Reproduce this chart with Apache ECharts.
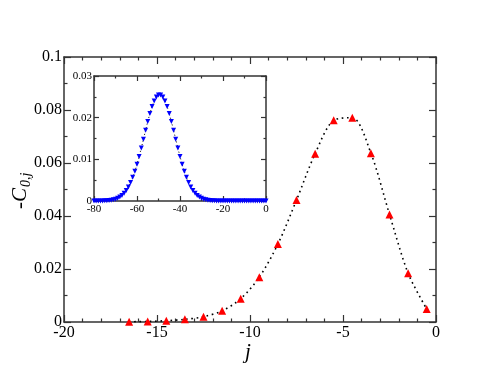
<!DOCTYPE html>
<html>
<head>
<meta charset="utf-8">
<script src="https://cdn.jsdelivr.net/npm/echarts@6/dist/echarts.min.js"></script>
<style>
  html, body { margin: 0; padding: 0; background: #fff; }
  #chart { width: 491px; height: 379px; }
</style>
</head>
<body>
<div id="chart"></div>
<script>
// main panel: -C_{0,j} against j
const mainJ = [-16.5, -15.5, -14.5, -13.5, -12.5, -11.5, -10.5, -9.5, -8.5,
  -7.5, -6.5, -5.5, -4.5, -3.5, -2.5, -1.5, -0.5]
const mainC = [0.0001, 0.0002, 0.0005, 0.001, 0.002, 0.0042, 0.0088, 0.0169, 0.0294,
  0.046, 0.0635, 0.0761, 0.0771, 0.0637, 0.0406, 0.0184, 0.0049]

// inset panel
const insetJ = [-80, -79, -78, -77, -76, -75, -74, -73, -72, -71, -70, -69, -68, -67,
  -66, -65, -64, -63, -62, -61, -60, -59, -58, -57, -56, -55, -54, -53, -52, -51, -50,
  -49, -48, -47, -46, -45, -44, -43, -42, -41, -40, -39, -38, -37, -36, -35, -34, -33,
  -32, -31, -30, -29, -28, -27, -26, -25, -24, -23, -22, -21, -20, -19, -18, -17, -16,
  -15, -14, -13, -12, -11, -10, -9, -8, -7, -6, -5, -4, -3, -2, -1, 0]
const insetC = [0, 0.00001, 0.00001, 0.00002, 0.00003, 0.00005, 0.00008, 0.00013,
  0.0002, 0.0003, 0.00045, 0.00066, 0.00095, 0.00134, 0.00186, 0.00253, 0.00338,
  0.00442, 0.00568, 0.00715, 0.00883, 0.01071, 0.01273, 0.01485, 0.01699, 0.01906,
  0.02099, 0.02267, 0.02401, 0.02495, 0.02544,
  0.02544, 0.02495, 0.02401, 0.02267, 0.02099, 0.01906, 0.01699, 0.01485, 0.01273,
  0.01071, 0.00883, 0.00715, 0.00568, 0.00442, 0.00338, 0.00253, 0.00186, 0.00134,
  0.00095, 0.00066, 0.00045, 0.0003, 0.0002, 0.00013, 0.00008, 0.00005, 0.00003,
  0.00002, 0.00001, 0.00001,
  0, 0, 0, 0, 0, 0, 0, 0, 0, 0, 0, 0, 0, 0, 0, 0, 0, 0, 0, 0]

const mainXTicks = { min: -20, max: 0, interval: 5 }
const mainYTicks = { min: 0, max: 0.1, interval: 0.02 }
const insetXTicks = { min: -80, max: 0, interval: 20 }
const insetYTicks = { min: 0, max: 0.03, interval: 0.01 }

const serif = 'Liberation Serif'
const frame = '#333'

function axis(kind, grid, ticks, pos, showLabel, fontSize, tickLen, minorSplit) {
  return {
    type: 'value',
    gridIndex: grid,
    position: pos,
    min: ticks.min, max: ticks.max, interval: ticks.interval,
    axisLine: { show: true, onZero: false, lineStyle: { color: frame, width: 1.5 } },
    axisTick: { show: true, inside: true, length: tickLen, lineStyle: { color: frame, width: 1.2 } },
    minorTick: { show: true, splitNumber: minorSplit, length: tickLen / 2, lineStyle: { color: frame, width: 1.2 } },
    splitLine: { show: false },
    axisLabel: {
      show: showLabel,
      color: '#000',
      fontFamily: serif,
      fontSize: fontSize,
      margin: kind === 'x' ? 3 : 2,
      showMinLabel: true,
      showMaxLabel: true
    }
  }
}

const chart = echarts.init(document.getElementById('chart'))
chart.setOption({
  animation: false,
  backgroundColor: '#fff',
  grid: [
    { left: 64, top: 57, width: 372, height: 265 },
    { left: 94, top: 76, width: 172, height: 125, show: true, backgroundColor: '#fff', borderWidth: 0 }
  ],
  xAxis: [
    axis('x', 0, mainXTicks, 'bottom', true, 16, 7, 5),
    axis('x', 0, mainXTicks, 'top', false, 16, 7, 5),
    axis('x', 1, insetXTicks, 'bottom', true, 11, 5, 2),
    axis('x', 1, insetXTicks, 'top', false, 11, 5, 2)
  ],
  yAxis: [
    axis('y', 0, mainYTicks, 'left', true, 16, 7, 2),
    axis('y', 0, mainYTicks, 'right', false, 16, 7, 2),
    axis('y', 1, insetYTicks, 'left', true, 11, 5, 2),
    axis('y', 1, insetYTicks, 'right', false, 11, 5, 2)
  ],
  series: [
    {
      type: 'line',
      xAxisIndex: 0, yAxisIndex: 0,
      data: mainJ.map((j, i) => [j, mainC[i]]),
      smooth: 0.3,
      symbol: 'triangle',
      symbolSize: 8,
      itemStyle: { color: '#ff0000' },
      lineStyle: { color: '#000', width: 1.6, type: [1.6, 3.6] },
      z: 3
    },
    {
      type: 'line',
      xAxisIndex: 2, yAxisIndex: 2,
      data: insetJ.map((j, i) => [j, insetC[i]]),
      smooth: 0.3,
      symbol: 'triangle',
      symbolRotate: 180,
      symbolSize: 5,
      itemStyle: { color: '#0000ff' },
      lineStyle: { color: '#000', width: 1, type: [1, 2.5] },
      z: 5
    }
  ],
  graphic: [
    {
      type: 'group',
      x: 20, y: 185,
      rotation: Math.PI / 2,
      children: [
        { type: 'text', x: -24, y: 0,
          style: { text: '-C', fontFamily: serif, fontSize: 21, fontStyle: 'italic', fill: '#000', verticalAlign: 'middle' } },
        { type: 'text', x: -2, y: 6,
          style: { text: '0,j', fontFamily: serif, fontSize: 14, fontStyle: 'italic', fill: '#000', verticalAlign: 'middle' } }
      ]
    },
    {
      type: 'text', x: 248, y: 352,
      style: { text: 'j', fontFamily: serif, fontSize: 21, fontStyle: 'italic', fill: '#000', align: 'center', verticalAlign: 'middle' }
    }
  ]
})
</script>
</body>
</html>
